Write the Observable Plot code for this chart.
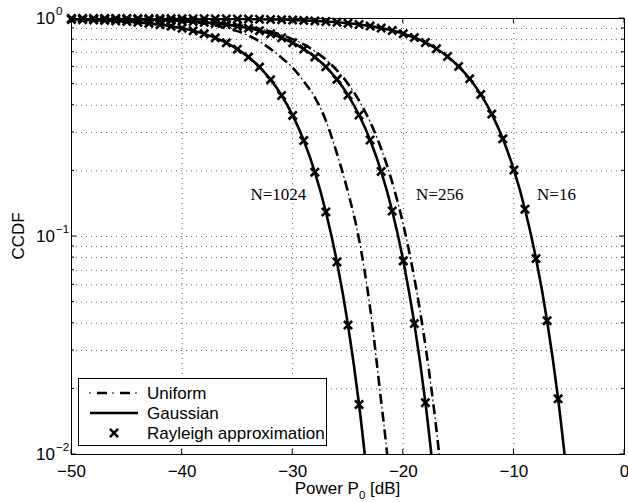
<!DOCTYPE html>
<html><head><meta charset="utf-8">
<script src="https://cdn.jsdelivr.net/npm/d3@7"></script>
<script src="https://cdn.jsdelivr.net/npm/@observablehq/plot@0.6"></script>
<style>
html,body{margin:0;padding:0;background:#fff;}
#chart svg{display:block;}
</style>
</head><body><div id="chart"></div>
<script>
// ---- data ----
const dB = [-50,-49,-48,-47,-46,-45,-44,-43,-42,-41,-40,-39,-38,-37,-36,-35,-34,-33,-32,-31,-30,
            -29,-28,-27,-26,-25,-24,-23,-22,-21,-20,-19,-18,-17,-16,-15,-14,-13,-12,-11,-10,-9,-8,-7,-6,-5];
// Gaussian (solid) and Rayleigh approximation (x) coincide at the picture's resolution
const ccdf16 = [0.99984,0.9998,0.99975,0.99968,0.9996,0.9995,0.99936,0.9992,0.99899,0.99873,0.9984,
  0.998,0.99747,0.99681,0.99599,0.99495,0.99365,0.99201,0.98996,0.98737,0.9841,
  0.9801,0.975,0.9686,0.9606,0.9507,0.9383,0.9229,0.904,0.8807,0.8521,0.8176,0.776,0.7267,0.6691,
  0.603,0.5289,0.4485,0.3644,0.2806,0.2019,0.1334,0.0792,0.0411,0.018,0.00635];
const ccdf256 = [0.99744,0.99678,0.99595,0.9949,0.99359,0.99194,0.98986,0.98725,0.98398,0.97987,
  0.97473,0.96829,0.96024,0.9502,0.93772,0.92223,0.9031,0.87959,0.85084,0.81599,
  0.77414,0.72447,0.66648,0.6,0.5257,0.44506,0.36089,0.27718,0.19883,0.13086,
  0.0773,0.03985,0.01729,0.00605];
const ccdf1024 = [0.98981,0.98719,0.9839,0.97977,0.97461,0.96814,0.96006,0.94998,0.93743,0.92188,
  0.90267,0.87905,0.85019,0.8152,0.7732,0.72336,0.66519,0.59855,0.5241,0.44335,
  0.35916,0.27551,0.19731,0.1296,0.07636,0.03924,0.01696,0.0059];
const uniform1024dB = [-50,-45,-42,-40,-38,-37,-36,-35,-34,-33,-32,-31,-30,-29,-28,-27,-26,-25,-24,-23,-22,-21.5,-21];
const uniform1024 = [0.9995,0.997,0.99,0.975,0.95,0.93,0.905,0.875,0.835,0.785,0.725,0.66,0.595,0.515,0.435,0.34,0.24,0.16,0.097,0.047,0.0175,0.0105,0.0055];
const uniform256dB = [-50,-45,-42,-40,-38,-36,-35,-34,-33,-32,-31,-30,-29,-28,-27,-26,-25,-24,-23,-22,-21,-20,-19,-18,-17,-16];
const uniform256 = [0.9978,0.9931,0.9863,0.9784,0.9661,0.9467,0.9334,0.9169,0.8966,0.8716,0.8411,0.8042,0.7601,0.708,0.6474,0.5785,0.5021,0.42,0.3355,0.2529,0.1771,0.1132,0.0644,0.0316,0.01294,0.0042];
const xTicks = [-50,-40,-30,-20,-10,0];
const yDecades = [0.01,0.1,1];
const yDecadeExp = ["−2","−1","0"];
const yMinor = [0.02,0.03,0.04,0.05,0.06,0.07,0.08,0.09,0.2,0.3,0.4,0.5,0.6,0.7,0.8,0.9];
const curveLabels = ["N=1024","N=256","N=16"];
const curveLabelX = [-31.3,-16.7,-6.15];
const curveLabelY = [0.155,0.155,0.155];
const legendNames = ["Uniform","Gaussian","Rayleigh approximation"];

// ---- tables ----
const series = [{N:16,v:ccdf16},{N:256,v:ccdf256},{N:1024,v:ccdf1024}];
const gaussRows = series.flatMap(s => s.v.map((v,i) => ({x: dB[i], y: v, N: s.N})));
const rayRows = gaussRows.filter(d => d.y >= 0.01);
const uniRows = [
  ...uniform1024.map((v,i) => ({x: uniform1024dB[i], y: v, N: 1024})),
  ...uniform256.map((v,i) => ({x: uniform256dB[i], y: v, N: 256}))
];
const labelRows = curveLabels.map((t,i) => ({t, x: curveLabelX[i], y: curveLabelY[i]}));
const fmt = d => d === 0 ? "0" : (d < 0 ? "−" + Math.abs(d) : String(d));
const sans = "'Liberation Sans', Arial, Helvetica, sans-serif";

const plot = Plot.plot({
  width: 628, height: 502,
  marginLeft: 71, marginRight: 4, marginTop: 18, marginBottom: 48,
  style: {fontFamily: sans, fontSize: "17px", background: "#fff", color: "#000", overflow: "visible"},
  x: {domain: [-50, 0], ticks: xTicks, tickSize: 0, tickPadding: 10, tickFormat: fmt, label: null},
  y: {type: "log", domain: [0.01, 1], axis: null},
  marks: [
    Plot.ruleY([...yMinor, 0.1], {stroke: "#000", strokeOpacity: 0.6, strokeWidth: 1, strokeDasharray: "1,4"}),
    Plot.ruleX(xTicks.slice(1, -1), {stroke: "#000", strokeOpacity: 0.6, strokeWidth: 1, strokeDasharray: "1,4"}),
    Plot.line(uniRows, {x: "x", y: "y", z: "N", stroke: "#000", strokeWidth: 2.6, strokeLinecap: "butt", strokeDasharray: "10,8", curve: "monotone-x", clip: true}),
    Plot.line(uniRows, {x: "x", y: "y", z: "N", stroke: "#000", strokeWidth: 1.1, strokeLinecap: "butt", strokeDasharray: "0,13,2,3", curve: "monotone-x", clip: true}),
    Plot.line(gaussRows, {x: "x", y: "y", z: "N", stroke: "#000", strokeWidth: 2.6, curve: "monotone-x", clip: true}),
    Plot.dot(rayRows, {x: "x", y: "y", symbol: "times", r: 3.8, stroke: "#000", strokeWidth: 2.6}),
    Plot.frame({stroke: "#000", strokeWidth: 1}),
    Plot.text(labelRows, {x: "x", y: "y", text: "t", fontFamily: "'Liberation Serif', 'Times New Roman', serif", fontSize: 17, fill: "#000"})
  ]
});

document.getElementById("chart").append(plot);

// ---- axes decorations (inward ticks, exponent labels, axis titles, legend) ----
const svg = d3.select(plot);
const sx = plot.scale("x"), sy = plot.scale("y");
const X0 = sx.apply(-50), X1 = sx.apply(0), Y0 = sy.apply(0.01), Y1 = sy.apply(1);
const g = svg.append("g").attr("stroke", "#000").attr("stroke-width", 1);
xTicks.forEach(t => {
  const x = sx.apply(t);
  g.append("line").attr("x1", x).attr("x2", x).attr("y1", Y0).attr("y2", Y0 - 5);
  g.append("line").attr("x1", x).attr("x2", x).attr("y1", Y1).attr("y2", Y1 + 5);
});
yDecades.forEach(t => {
  const y = sy.apply(t);
  g.append("line").attr("x1", X0).attr("x2", X0 + 5).attr("y1", y).attr("y2", y);
  g.append("line").attr("x1", X1).attr("x2", X1 - 5).attr("y1", y).attr("y2", y);
});
yMinor.forEach(t => {
  const y = sy.apply(t);
  g.append("line").attr("x1", X0).attr("x2", X0 + 3).attr("y1", y).attr("y2", y);
  g.append("line").attr("x1", X1).attr("x2", X1 - 3).attr("y1", y).attr("y2", y);
});
const tg = svg.append("g").attr("font-family", sans).attr("fill", "#000");
yDecades.forEach((t, i) => {
  const y = sy.apply(t);
  tg.append("text").attr("x", 55).attr("y", y + 6).attr("text-anchor", "end").attr("font-size", 17).text("10");
  tg.append("text").attr("x", 56).attr("y", y - 3).attr("text-anchor", "start").attr("font-size", 11.5).text(yDecadeExp[i]);
});
const xl = tg.append("text").attr("x", (X0 + X1) / 2).attr("y", 494).attr("text-anchor", "middle").attr("font-size", 17);
xl.append("tspan").text("Power P");
xl.append("tspan").attr("font-size", 11.5).attr("dy", 5).text("0");
xl.append("tspan").attr("dy", -5).text(" [dB]");
tg.append("text").attr("transform", `translate(18,${(Y0 + Y1) / 2}) rotate(-90)`)
  .attr("text-anchor", "middle").attr("dominant-baseline", "central").attr("font-size", 17).text("CCDF");

// legend
const lg = svg.append("g");
lg.append("rect").attr("x", 78.5).attr("y", 378.5).attr("width", 248).attr("height", 67)
  .attr("fill", "#fff").attr("stroke", "#000").attr("stroke-width", 1);
const rowsY = [393, 413, 433];
lg.append("line").attr("x1", 90).attr("x2", 138).attr("y1", rowsY[0]).attr("y2", rowsY[0])
  .attr("stroke", "#000").attr("stroke-width", 2.6).attr("stroke-dasharray", "0 7 10 6");
lg.append("line").attr("x1", 89).attr("x2", 138).attr("y1", rowsY[0]).attr("y2", rowsY[0])
  .attr("stroke", "#000").attr("stroke-width", 1.1).attr("stroke-dasharray", "2 21");
lg.append("line").attr("x1", 90).attr("x2", 138).attr("y1", rowsY[1]).attr("y2", rowsY[1])
  .attr("stroke", "#000").attr("stroke-width", 2.6);
lg.append("path").attr("d", d3.symbol(d3.symbolTimes, Math.PI * 3.8 * 3.8)())
  .attr("transform", `translate(114,${rowsY[2]})`).attr("fill", "none").attr("stroke", "#000").attr("stroke-width", 2.6);
legendNames.forEach((n, i) => {
  lg.append("text").attr("x", 147).attr("y", rowsY[i]).attr("dominant-baseline", "central")
    .attr("text-anchor", "start")
    .attr("font-family", sans).attr("font-size", 17).attr("fill", "#000").text(n);
});
</script>
</body></html>
